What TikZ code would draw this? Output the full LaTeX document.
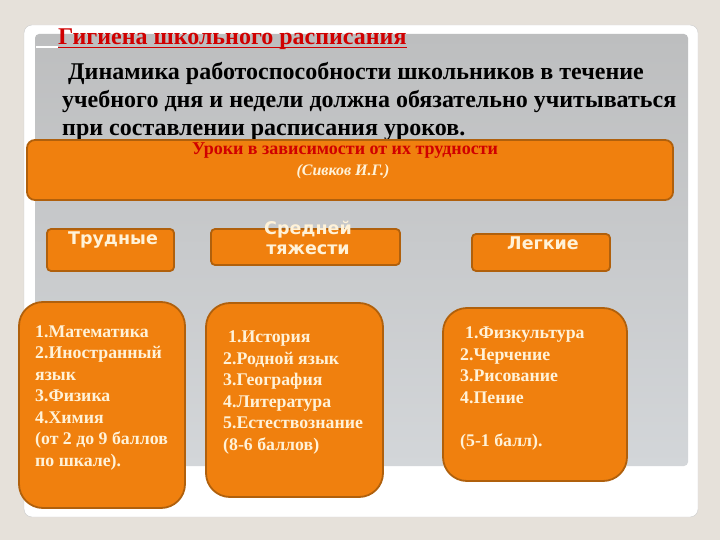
\documentclass[tikz,border=0pt]{standalone}
\usepackage{fontspec}
\setmainfont{Liberation Serif}
\newfontfamily\hdrfont{DejaVu Sans}
\definecolor{bgbeige}{HTML}{E6E1DA}
\definecolor{panelgray}{HTML}{BDBEBF}
\definecolor{panelgraylo}{HTML}{D3D6D9}
\definecolor{boxorange}{HTML}{F0800E}
\definecolor{boxedge}{HTML}{B0600C}
\definecolor{titlered}{HTML}{D00000}
\definecolor{cream}{HTML}{FFF2D8}
\tikzset{
  obox/.style={draw=boxedge, line width=1.8pt, fill=boxorange},
  listtxt/.style={anchor=base west, align=left, text=cream, inner sep=0pt,
     font=\fontsize{17.8}{21.5}\selectfont\bfseries},
  hdrtxt/.style={text=cream, inner sep=0pt, align=center,
     font=\hdrfont\fontsize{17.5}{20}\selectfont\bfseries},
  paratxt/.style={anchor=base west, inner sep=0pt, font=\fontsize{24}{28}\selectfont\bfseries},
}
\begin{document}
\begin{tikzpicture}[x=1pt,y=-1pt]
\useasboundingbox (0,0) rectangle (720,540);
\fill[bgbeige] (0,0) rectangle (720,540);
% white card
\draw[draw=gray!40, fill=white, rounded corners=8pt] (24,25) rectangle (698,517);
% inner gray panel
\shade[top color=panelgray, bottom color=panelgraylo, rounded corners=4pt] (35,34) rectangle (688,466);
% title
\node[anchor=base west, inner sep=0pt, text=titlered, font=\fontsize{24}{26}\selectfont\bfseries] (title) at (58,45) {Гигиена школьного расписания};
\draw[white, line width=2pt] (36,47.5) -- ([yshift=-2.5pt]title.base west);
\draw[titlered, line width=1.8pt] ([yshift=-2.5pt]title.base west) -- ([yshift=-2.5pt]title.base east);
% paragraph
\node[paratxt] (para1) at (68,80) {Динамика работоспособности школьников в течение};
\node[paratxt] (para2) at (62,108) {учебного дня и недели должна обязательно учитываться};
\node[paratxt] (para3) at (62,136) {при составлении расписания уроков.};
% big top box
\draw[obox, rounded corners=8pt] (27,140) rectangle (673,200);
\node[inner sep=0pt, text=titlered, font=\fontsize{18}{20}\selectfont\bfseries] (lessons) at (345,151) {Уроки в зависимости от их трудности};
\node[inner sep=0pt, text=cream, font=\fontsize{16}{18}\selectfont\bfseries\itshape] (sivkov) at (343,172) {(Сивков И.Г.)};
% category boxes
\draw[obox, rounded corners=4pt] (47,229) rectangle (174,271);
\node[hdrtxt] (hard) at (113,240) {Трудные};
\draw[obox, rounded corners=4pt] (211,229) rectangle (400,265);
\node[hdrtxt] (mid) at (308,238) {Средней\\тяжести};
\draw[obox, rounded corners=4pt] (472,234) rectangle (610,271);
\node[hdrtxt] (easy) at (543,243) {Легкие};
% list boxes
\draw[obox, rounded corners=24pt] (19,302) rectangle (185,508);
\node[listtxt] (l1) at (35,466) {1.Математика\\2.Иностранный\\язык\\3.Физика\\4.Химия\\(от 2 до 9 баллов\\по шкале).};
\draw[obox, rounded corners=24pt] (206,303) rectangle (383,497);
\node[listtxt] (l2) at (223,450) {\hspace{5pt}1.История\\2.Родной язык\\3.География\\4.Литература\\5.Естествознание\\(8-6 баллов)};
\draw[obox, rounded corners=24pt] (443,308) rectangle (627,481);
\node[listtxt] (l3) at (460,446) {\hspace{5pt}1.Физкультура\\2.Черчение\\3.Рисование\\4.Пение\\[21.5pt](5-1 балл).};
\end{tikzpicture}
\end{document}
